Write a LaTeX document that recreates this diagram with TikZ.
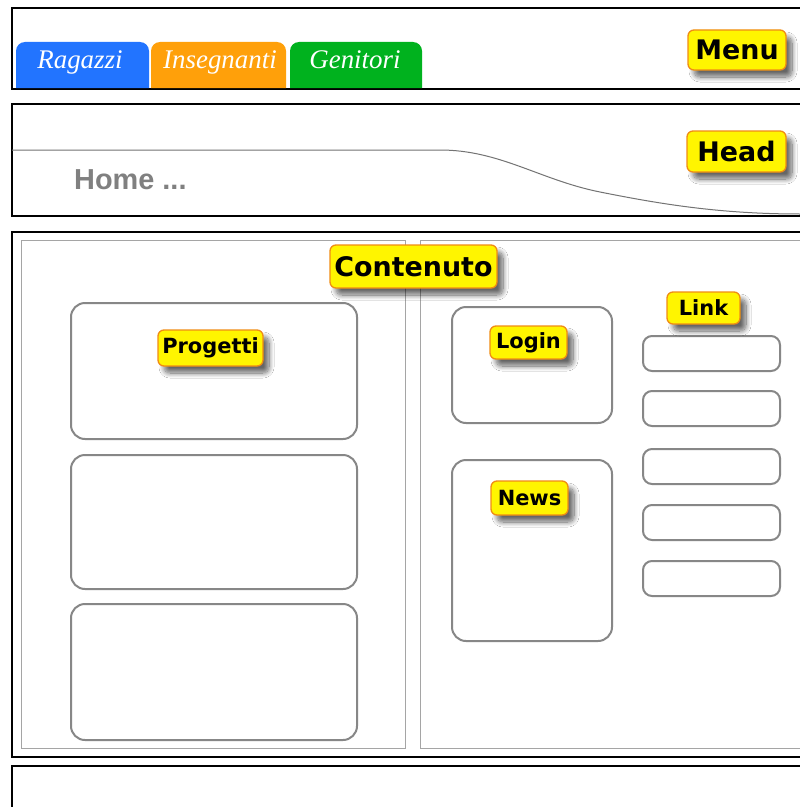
\documentclass[tikz,border=0pt]{standalone}
\usepackage{fontspec}
\setmainfont{Liberation Serif}
\newfontfamily\tagfont{DejaVu Sans}[BoldFont={DejaVu Sans Bold}]
\newfontfamily\crumbfont{Liberation Sans}
\usetikzlibrary{shadows.blur}
\definecolor{tabblue}{RGB}{34,116,255}
\definecolor{taborange}{RGB}{255,160,10}
\definecolor{tabgreen}{RGB}{0,178,30}
\definecolor{tagfill}{RGB}{255,245,0}
\definecolor{tagline}{RGB}{240,140,20}
\definecolor{blockline}{RGB}{135,135,135}
\definecolor{panelline}{RGB}{165,165,165}
\tikzset{
  region/.style={draw=black, line width=2.6bp},
  panel/.style={draw=panelline, line width=1bp},
  block/.style={draw=blockline, line width=2bp, rounded corners=14bp, fill=white},
  linkbox/.style={draw=blockline, line width=2bp, rounded corners=9bp, fill=white},
  tab/.style={rounded corners=9bp},
  tabtext/.style={anchor=base, text=white, font=\fontsize{27}{27}\selectfont\itshape},
  tag/.style={draw=tagline, fill=tagfill, line width=1.3bp, rounded corners=6bp,
    inner sep=0pt, text=black,
    blur shadow={shadow xshift=6bp, shadow yshift=-7bp, shadow blur radius=5bp,
      shadow blur steps=12, shadow opacity=60}},
  bigtag/.style={tag, font=\tagfont\bfseries\fontsize{27}{27}\selectfont},
  smalltag/.style={tag, font=\tagfont\bfseries\fontsize{21}{21}\selectfont},
}
\begin{document}
\begin{tikzpicture}[x=1bp, y=-1bp]
  \useasboundingbox (0,0) rectangle (800,807);
  \fill[white] (0,0) rectangle (800,807);

  % --- menu bar with the three tabs
  \draw[region] (12,8) rectangle (812,89);
  \fill[tabblue]   (16,88)  [tab] -- (16,42)  -- (149,42) [sharp corners] -- (149,88) -- cycle;
  \fill[taborange] (151,88) [tab] -- (151,42) -- (286,42) [sharp corners] -- (286,88) -- cycle;
  \fill[tabgreen]  (290,88) [tab] -- (290,42) -- (422,42) [sharp corners] -- (422,88) -- cycle;
  \node[tabtext] (ragazzi) at (80,69) {Ragazzi};
  \node[tabtext] (insegnanti) at (220,69) {Insegnanti};
  \node[tabtext] (genitori) at (355,69) {Genitori};
  \node[bigtag, minimum width=98bp, minimum height=40bp] (menu) at (737,50) {Menu};

  % --- header with the curved band and the breadcrumb
  \draw[region] (12,104) rectangle (812,216);
  \draw[black!55, line width=1bp] (12,150) -- (440,150)
     .. controls (500,150) and (540,180) .. (600,192)
     .. controls (660,204) and (720,214) .. (800,214);
  \node[anchor=base west, inner sep=0pt, text=black!50,
     font=\crumbfont\bfseries\fontsize{29}{29}\selectfont]
     (home) at (74,189) {Home ...};
  \node[bigtag, minimum width=99bp, minimum height=41bp] (head) at (736.5,151.5) {Head};

  % --- content area
  \draw[region] (12,232) rectangle (812,757);
  \draw[panel] (21,240) rectangle (405,748);
  \draw[panel] (420,240) rectangle (812,748);

  % left column: three project blocks
  \draw[block] (71,303) rectangle (357,439);
  \draw[block] (71,455) rectangle (357,589);
  \draw[block] (71,604) rectangle (357,740);

  % middle column: login and news
  \draw[block] (452,307) rectangle (612,423);
  \draw[block] (452,460) rectangle (612,641);

  % right column: link buttons
  \draw[linkbox] (643,336) rectangle (780,371);
  \draw[linkbox] (643,391) rectangle (780,426);
  \draw[linkbox] (643,449) rectangle (780,484);
  \draw[linkbox] (643,505) rectangle (780,540);
  \draw[linkbox] (643,561) rectangle (780,596);

  \node[bigtag, minimum width=167bp, minimum height=43bp] (contenuto) at (413.5,266.5) {Contenuto};
  \node[smalltag, minimum width=105bp, minimum height=36bp] (progetti) at (210.5,348) {Progetti};
  \node[smalltag, minimum width=77bp, minimum height=33bp] (login) at (528.5,342.5) {Login};
  \node[smalltag, minimum width=77bp, minimum height=34bp] (news) at (529.5,498) {News};
  \node[smalltag, minimum width=73bp, minimum height=32bp] (link) at (703.5,308) {Link};

  % --- footer
  \draw[region] (12,766) rectangle (812,830);
\end{tikzpicture}
\end{document}
